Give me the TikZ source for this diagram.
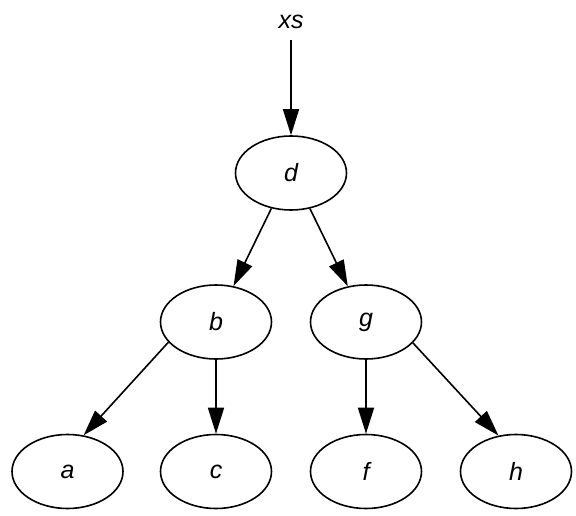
\documentclass[tikz,border=0pt]{standalone}
\usepackage{fontspec}
\setmainfont{Liberation Sans}
\usetikzlibrary{shapes.geometric,arrows.meta}
\tikzset{>={Triangle[length=26pt,width=16pt]}}
\tikzset{
  vertex/.style={draw,ellipse,line width=1.6pt,minimum width=111pt,minimum height=74pt,inner sep=0pt,font=\fontsize{25}{30}\selectfont\itshape},
  label/.style={inner sep=0pt,minimum height=36pt,font=\fontsize{25}{30}\selectfont\itshape},
  edge/.style={->,line width=1.6pt}
}

\begin{document}
\begin{tikzpicture}[x=1pt,y=-1pt]
            \draw[draw=none,use as bounding box] (0,0) rectangle (576,516);
            \node[label] (xs) at (291,22) {xs};
            \node[vertex] (d) at (291,173) {d};
            \node[vertex] (b) at (216,322) {b};
            \node[vertex] (g) at (366,322) {g};
            \foreach \v/\x in {a/67.5,c/216,f/366,h/516}
                \node[vertex] (\v) at (\x,471.5) {\v};
            \draw[edge] (xs) -- (d);
            \draw[edge] (d.241) -- (b.64);
            \draw[edge] (d.298) -- (g.117);
            \draw[edge] (b.203) -- (a.66);
            \draw[edge] (b) -- (c);
            \draw[edge] (g) -- (f);
            \draw[edge] (g.336) -- (h.116);
        \end{tikzpicture}
\end{document}
